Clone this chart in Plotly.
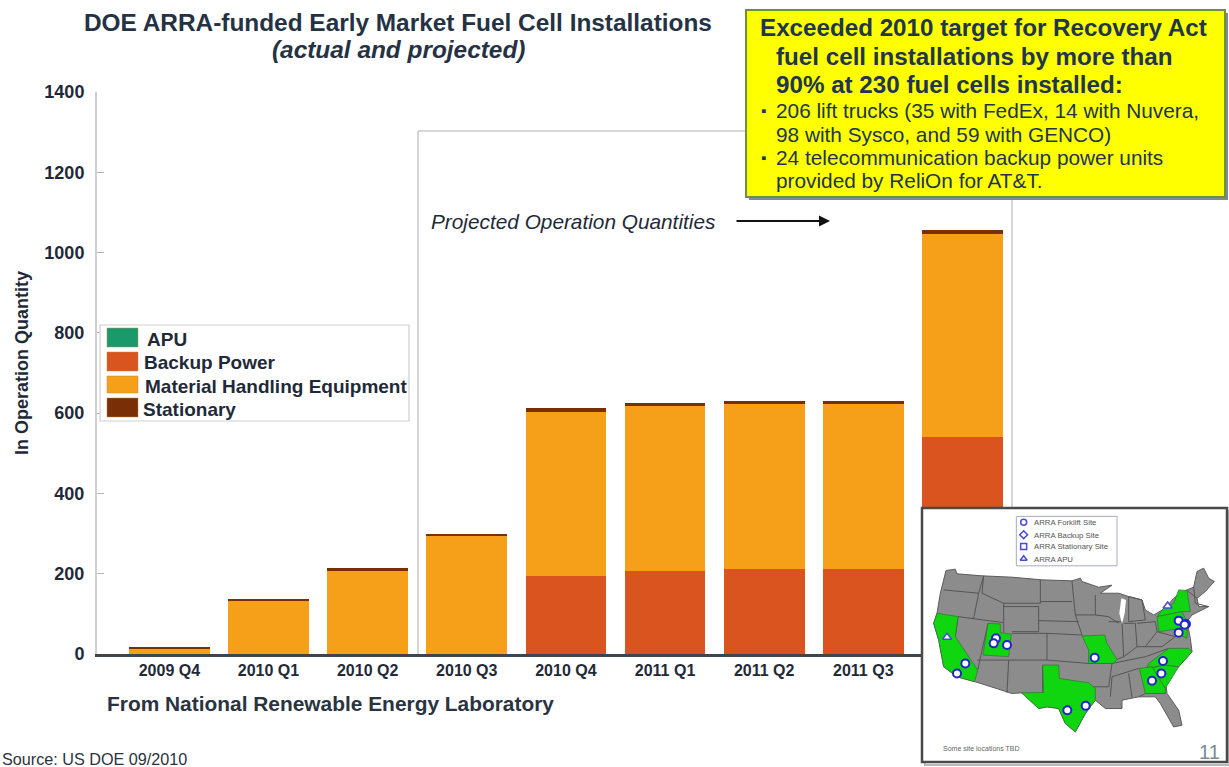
import plotly.graph_objects as go

W, H = 1229, 767
quarters = ["2009 Q4", "2010 Q1", "2010 Q2", "2010 Q3", "2010 Q4", "2011 Q1", "2011 Q2", "2011 Q3", "2011 Q4"]
apu = [0, 0, 0, 0, 0, 0, 0, 0, 0]
backup = [0, 0, 0, 0, 195, 207, 211, 211, 541]
material = [13, 134, 208, 295, 409, 410, 412, 412, 506]
stationary = [2, 3, 6, 3, 8, 8, 7, 7, 8]
y_ticks = [0, 200, 400, 600, 800, 1000, 1200, 1400]

series_names = ["APU", "Backup Power", "Material Handling Equipment", "Stationary"]
series_colors = ["#1a9a6c", "#d9541e", "#f6a01a", "#7a2e05"]

# Inset map geography, in the inset's own coordinate system
us_outline = [(92,212),(120,208),(125,222),(200,228),(290,232),(380,240),(470,243),(495,235),(500,245),(550,262),(590,256),(555,280),(610,280),(640,290),(680,300),(690,330),(715,345),(750,325),(775,295),(810,272),(835,262),(845,215),(865,205),(880,235),(897,245),(870,275),(845,295),(850,320),(880,320),(830,345),(815,365),(825,415),(830,455),(790,500),(750,535),(755,580),(790,630),(800,675),(775,680),(735,610),(720,590),(670,590),(620,600),(620,625),(570,625),(540,600),(510,640),(480,695),(450,670),(430,625),(395,620),(370,625),(320,578),(290,580),(180,545),(125,530),(85,500),(70,420),(55,370),(65,340),(75,280),(92,212)]
lake_michigan = [(618,295),(632,300),(628,340),(620,372),(612,340),(618,295)]
green_states = [
    [(65,340),(128,350),(120,410),(187,510),(178,545),(125,530),(85,500),(70,420),(55,370),(65,340)],
    [(218,370),(255,372),(255,398),(288,402),(280,470),(203,465),(218,370)],
    [(382,495),(430,495),(432,535),(520,548),(540,565),(540,600),(510,640),(480,695),(450,670),(430,625),(395,620),(370,625),(318,578),(385,577),(382,495)],
    [(500,408),(568,405),(575,430),(605,478),(595,490),(520,490),(520,450),(500,408)],
    [(745,325),(775,310),(790,270),(815,272),(825,335),(800,335),(725,350),(745,325)],
    [(725,350),(800,335),(815,365),(800,385),(730,395),(725,350)],
    [(780,395),(815,380),(815,415),(780,400),(780,395)],
    [(700,490),(760,445),(820,445),(830,455),(790,500),(745,495),(695,505),(700,490)],
    [(700,505),(745,495),(790,500),(750,565),(700,505)],
    [(672,505),(710,500),(750,565),(750,580),(690,580),(672,505)],
]
state_lines = [
    [(85,270),(190,280)], [(205,228),(190,280),(175,355)], [(128,350),(265,368)], [(205,228),(200,280),(265,310)],
    [(265,310),(375,310),(375,240)], [(265,320),(370,320),(370,395),(290,395)], [(265,310),(265,398)],
    [(128,350),(120,410)], [(218,370),(187,510)], [(185,480),(280,480),(275,578)], [(290,400),(395,400),(395,480),(280,480)],
    [(375,305),(470,305)], [(370,362),(490,365)], [(395,400),(500,405)], [(395,480),(520,490)], [(382,495),(382,577)],
    [(470,243),(480,345),(540,345)], [(480,345),(500,405)], [(540,285),(540,345),(580,350),(610,370)],
    [(580,365),(620,365),(625,470),(605,478)], [(625,370),(660,370),(665,440),(625,470)], [(665,370),(720,365),(725,395),(690,440),(665,440)],
    [(640,290),(680,300),(690,360),(640,365),(640,290)], [(590,490),(690,470),(760,445)], [(590,530),(670,505)], [(590,530),(585,590)],
    [(640,520),(650,592)], [(520,490),(590,490),(580,560),(535,560)], [(725,395),(780,410),(740,440),(690,440)],
    [(835,262),(840,310),(880,320)], [(815,272),(845,295)], [(750,580),(690,580),(670,590)],
]
site_x = [150, 125, 242, 235, 275, 538, 456, 511, 710, 738, 743, 790, 812, 808, 790]
site_y = [490, 520, 415, 430, 435, 473, 630, 617, 542, 520, 483, 362, 372, 374, 398]
apu_x = [95, 757]
apu_y = [412, 318]
map_legend_labels = ["ARRA Forklift Site", "ARRA Backup Site", "ARRA Stationary Site", "ARRA APU"]
map_legend_symbols = ["circle-open", "diamond-open", "square-open", "triangle-up-open"]
map_legend_y = [68, 105, 140, 177]

NAVY = "#21354f"
BOLD = "Liberation Sans"

def px(x): return x / W
def py(y): return 1 - y / H

def label(text, x, y, size, color="#1f2a38", bold=False, italic=False, xanchor="left", font=BOLD, angle=0):
    t = text
    if bold: t = f"<b>{t}</b>"
    if italic: t = f"<i>{t}</i>"
    return dict(text=t, x=px(x), y=py(y), xref="paper", yref="paper", showarrow=False, textangle=angle,
                xanchor=xanchor, yanchor="middle", font=dict(family=font, size=size, color=color))

def paper_rect(x0, y0, x1, y1, fill=None, line=None, lw=1, layer="above"):
    return dict(type="rect", xref="paper", yref="paper", x0=px(x0), x1=px(x1), y0=py(y1), y1=py(y0),
                fillcolor=fill or "rgba(0,0,0,0)", line=dict(color=line or "rgba(0,0,0,0)", width=lw), layer=layer)

def paper_line(x0, y0, x1, y1, color, lw=1, layer="below"):
    return dict(type="line", xref="paper", yref="paper", x0=px(x0), x1=px(x1), y0=py(y0), y1=py(y1),
                line=dict(color=color, width=lw), layer=layer)

fig = go.Figure()

# stacked bars, bottom to top
for name, values, color in [(series_names[1], backup, series_colors[1]),
                            (series_names[2], material, series_colors[2]),
                            (series_names[3], stationary, series_colors[3]),
                            (series_names[0], apu, series_colors[0])]:
    fig.add_trace(go.Bar(x=quarters, y=values, name=name, marker=dict(color=color, line=dict(width=0)),
                         width=0.815, showlegend=False))

# inset map
def path_xy(segments):
    xs, ys = [], []
    for seg in segments:
        xs += [p[0] for p in seg] + [None]
        ys += [p[1] for p in seg] + [None]
    return xs, ys

def map_trace(**kw):
    fig.add_trace(go.Scatter(xaxis="x2", yaxis="y2", showlegend=False, hoverinfo="skip", **kw))

map_trace(x=[20, 935, 935, 20, 20], y=[25, 25, 785, 785, 25], mode="lines", fill="toself", fillcolor="white", line=dict(width=0))
map_trace(x=[303, 605, 605, 303, 303], y=[50, 50, 198, 198, 50], mode="lines", fill="toself", fillcolor="white", line=dict(color="#a9a9c8", width=1))
map_trace(x=[p[0] for p in us_outline], y=[p[1] for p in us_outline], mode="lines", fill="toself", fillcolor="#8c8c8c", line=dict(color="#5c5c5c", width=1))
lx, ly = path_xy(state_lines)
map_trace(x=lx, y=ly, mode="lines", line=dict(color="#555555", width=1))
map_trace(x=[p[0] for p in lake_michigan], y=[p[1] for p in lake_michigan], mode="lines", fill="toself", fillcolor="white", line=dict(width=0))
for state in green_states:
    map_trace(x=[p[0] for p in state], y=[p[1] for p in state], mode="lines", fill="toself", fillcolor="#0fd60f", line=dict(color="#3a6b3a", width=0.7))
map_trace(x=site_x, y=site_y, mode="markers", marker=dict(symbol="circle", size=8, color="white", line=dict(color="#2323c8", width=2)))
map_trace(x=apu_x, y=apu_y, mode="markers", marker=dict(symbol="triangle-up", size=8, color="white", line=dict(color="#4a4ad8", width=1.5)))
map_trace(x=[325] * 4, y=map_legend_y, mode="markers",
          marker=dict(symbol=map_legend_symbols, size=6, color="#4a4ad8", line=dict(color="#4a4ad8", width=1.5)))

shapes = [
    # projected-period panel
    paper_line(418, 131, 418, 654, "#c8c8c8", 1.5),
    paper_line(418, 131, 1012, 131, "#c8c8c8", 1.5),
    paper_line(1012, 131, 1012, 654, "#c8c8c8", 1.5),
    # chart legend
    paper_rect(100, 325, 409, 421, fill="white", line="#cfcfcf", lw=1.2),
    # yellow call-out
    paper_rect(749, 13, 1228, 200, fill="#7d8a99"),
    paper_rect(746, 10, 1225, 197, fill="#ffff00", line="#6f8f3c", lw=2),
    # map frame
    paper_rect(925, 511, 1229, 765, fill=None, line="#b9b9b9", lw=2, layer="below"),
    paper_rect(922, 508, 1227, 762, line="#4a4a4a", lw=2.5),
]

annotations = [
    label("DOE ARRA-funded Early Market Fuel Cell Installations", 398, 22, 24.4, bold=True, xanchor="center", color="#253243"),
    label("(actual and projected)", 398, 50, 24.4, bold=True, italic=True, xanchor="center", color="#253243"),
    label("In Operation Quantity", 22, 363, 18, bold=True, xanchor="center", angle=-90),
    label("Projected Operation Quantities", 429, 221, 20.8, italic=True),
    label("From National Renewable Energy Laboratory", 105, 703, 20.9, bold=True, color="#2a3340"),
    label("Source: US DOE 09/2010", 0, 759, 16.2, color="#2a3340"),
    dict(x=px(830), y=py(221), ax=-95, ay=0, xref="paper", yref="paper", axref="pixel", ayref="pixel",
         showarrow=True, arrowhead=2, arrowsize=1.1, arrowwidth=2, arrowcolor="#111111", text=""),
    # call-out text
    label("Exceeded 2010 target for Recovery Act", 758, 28, 24.2, NAVY, bold=True),
    label("fuel cell installations by more than", 774, 56, 24.2, NAVY, bold=True),
    label("90% at 230 fuel cells installed:", 774, 84, 24.2, NAVY, bold=True),
    label("▪", 759, 110, 15, NAVY, bold=True),
    label("206 lift trucks (35 with FedEx, 14 with Nuvera,", 774, 110, 20.8, NAVY),
    label("98 with Sysco, and 59 with GENCO)", 774, 134, 20.8, NAVY),
    label("▪", 759, 157, 15, NAVY, bold=True),
    label("24 telecommunication backup power units", 774, 157, 20.8, NAVY),
    label("provided by ReliOn for AT&amp;T.", 774, 181, 20.8, NAVY),
    # map notes
    label("Some site locations TBD", 941, 748, 7, "#666666"),
    label("11", 1222, 752, 20, "#7a8a99", xanchor="right"),
]

# chart legend: swatches and labels
legend_swatch_y = [(328, 347), (352, 371), (376, 393), (398, 417)]
legend_text_pos = [(145, 339), (142, 362), (143, 386), (141, 409)]
for name, color, (y0, y1), (tx, ty) in zip(series_names, series_colors, legend_swatch_y, legend_text_pos):
    shapes.append(paper_rect(107, y0, 138, y1, fill=color, line="#b8894a", lw=0.5))
    annotations.append(label(name, tx, ty, 19, bold=True))

# map legend
for name, y in zip(map_legend_labels, map_legend_y):
    annotations.append(label(name, 915 + 352 / 3, 500 + y / 3, 7.8, "#555555"))

fig.update_layout(
    width=W, height=H, margin=dict(l=0, r=0, t=0, b=0, autoexpand=False),
    paper_bgcolor="white", plot_bgcolor="white",
    barmode="stack", bargap=0.185,
    font=dict(family=BOLD),
    xaxis=dict(domain=[px(97), px(1012)], range=[-0.73, 8.5], type="category",
               categoryorder="array", categoryarray=quarters,
               showgrid=False, zeroline=False, showline=True, linecolor="#3f454c", linewidth=3,
               ticks="", tickfont=dict(family=BOLD, size=16, color="#1f2a38", weight=700), tickangle=0, automargin=False),
    yaxis=dict(domain=[py(654), py(92)], range=[0, 1400], tickmode="array", tickvals=y_ticks,
               showgrid=False, zeroline=False, showline=True, linecolor="#cfcfcf", linewidth=2,
               ticks="inside", ticklen=7, tickcolor="#b5b5b5",
               tickfont=dict(family=BOLD, size=18, color="#1f2a38", weight=700), ticklabelstandoff=7,
               automargin=False),
    xaxis2=dict(domain=[px(922), px(1227)], range=[20, 935], visible=False, fixedrange=True, anchor="y2"),
    yaxis2=dict(domain=[py(762), py(508)], range=[785, 25], visible=False, fixedrange=True, anchor="x2"),
    shapes=shapes,
    annotations=annotations,
)

fig.write_html("out.html", post_script="document.body.style.margin='0';", config=dict(displayModeBar=False))
